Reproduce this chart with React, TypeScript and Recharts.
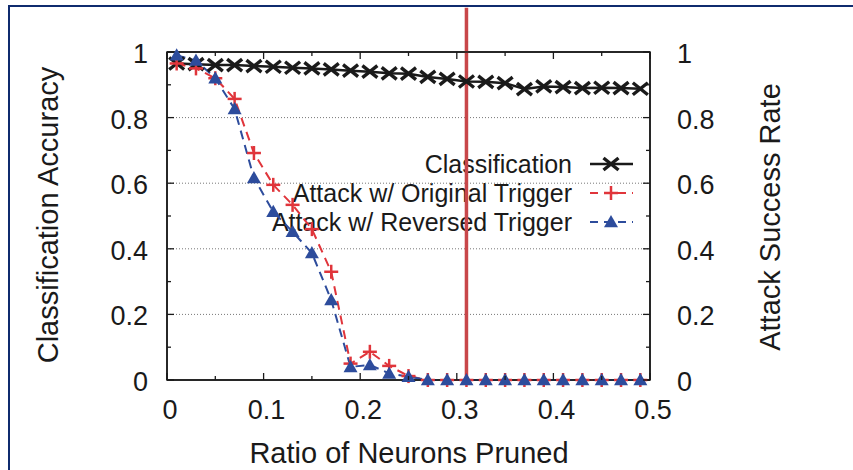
import { LineChart, Line, XAxis, YAxis, ReferenceLine, ReferenceArea, Customized } from 'recharts';

// pruning ratio (x) and the three measured curves
const ratio = [
  0.01, 0.03, 0.05, 0.07, 0.09, 0.11, 0.13, 0.15, 0.17, 0.19, 0.21, 0.23, 0.25,
  0.27, 0.29, 0.31, 0.33, 0.35, 0.37, 0.39, 0.41, 0.43, 0.45, 0.47, 0.49,
];
const classification = [
  0.965, 0.963, 0.96, 0.96, 0.957, 0.955, 0.952, 0.95, 0.947, 0.943, 0.94, 0.935, 0.934,
  0.924, 0.918, 0.91, 0.909, 0.905, 0.887, 0.895, 0.893, 0.89, 0.891, 0.89, 0.888,
];
const originalTrigger = [
  0.965, 0.95, 0.92, 0.857, 0.692, 0.595, 0.534, 0.46, 0.33, 0.05, 0.086, 0.043, 0.012,
  0, 0, 0, 0, 0, 0, 0, 0, 0, 0, 0, 0,
];
const reversedTrigger = [
  0.99, 0.974, 0.92, 0.826, 0.616, 0.513, 0.452, 0.387, 0.244, 0.04, 0.046, 0.02, 0.01,
  0, 0, 0, 0, 0, 0, 0, 0, 0, 0, 0, 0,
];

const xTicks = [0, 0.05, 0.1, 0.15, 0.2, 0.25, 0.3, 0.35, 0.4, 0.45, 0.5];
const yTicks = [0, 0.1, 0.2, 0.3, 0.4, 0.5, 0.6, 0.7, 0.8, 0.9, 1];
const gridLevels = [0.2, 0.4, 0.6, 0.8];
const pruneCut = 0.31;
const seriesNames = ['Classification', 'Attack w/ Original Trigger', 'Attack w/ Reversed Trigger'];

const data = ratio.map((r, i) => ({
  ratio: r,
  cls: classification[i],
  orig: originalTrigger[i],
  rev: reversedTrigger[i],
}));

const FONT = '"Liberation Sans", Arial, Helvetica, sans-serif';
const INK = '#1a1a1a';
const RED = '#e0353b';
const BLUE = '#2d4c9c';
const CUT = '#c8474a';

const fmt = (v: number) => (v === 0 ? '0' : v === 1 ? '1' : v.toFixed(1));
const majorX = (v: number) => Math.round(v * 100) % 10 === 0;
const majorY = (v: number) => Math.round(v * 10) % 2 === 0;

function LeftTick({ x, y, payload }: any) {
  const v = payload.value;
  const big = majorY(v);
  return (
    <g>
      <line x1={x} x2={x + (big ? 7 : 4)} y1={y} y2={y} stroke={INK} strokeWidth={1.3} />
      {big && (
        <text x={x - 19} y={y + 2} textAnchor="end" dominantBaseline="central" fontSize={27} fontFamily={FONT} fill={INK}>
          {fmt(v)}
        </text>
      )}
    </g>
  );
}

function RightTick({ x, y, payload }: any) {
  const v = payload.value;
  const big = majorY(v);
  return (
    <g>
      <line x1={x} x2={x - (big ? 7 : 4)} y1={y} y2={y} stroke={INK} strokeWidth={1.3} />
      {big && (
        <text x={x + 27} y={y + 2} textAnchor="start" dominantBaseline="central" fontSize={27} fontFamily={FONT} fill={INK}>
          {fmt(v)}
        </text>
      )}
    </g>
  );
}

function BottomTick({ x, y, payload }: any) {
  const v = payload.value;
  const big = majorX(v);
  return (
    <g>
      <line x1={x} x2={x} y1={y} y2={y - (big ? 7 : 4)} stroke={INK} strokeWidth={1.3} />
      {big && (
        <text x={x + 3} y={y + 30} textAnchor="middle" dominantBaseline="central" fontSize={27} fontFamily={FONT} fill={INK}>
          {fmt(v)}
        </text>
      )}
    </g>
  );
}

function TopTick({ x, y, payload }: any) {
  const big = majorX(payload.value);
  return <line x1={x} x2={x} y1={y} y2={y + (big ? 7 : 4)} stroke={INK} strokeWidth={1.3} />;
}

function Cross({ cx, cy, size = 7.5, color = INK, w = 3.4 }: any) {
  return (
    <g stroke={color} strokeWidth={w}>
      <line x1={cx - size} y1={cy - size * 0.8} x2={cx + size} y2={cy + size * 0.8} />
      <line x1={cx - size} y1={cy + size * 0.8} x2={cx + size} y2={cy - size * 0.8} />
    </g>
  );
}

function Plus({ cx, cy, size = 7, color = RED, w = 2.5 }: any) {
  return (
    <g stroke={color} strokeWidth={w}>
      <line x1={cx - size} y1={cy} x2={cx + size} y2={cy} />
      <line x1={cx} y1={cy - size} x2={cx} y2={cy + size} />
    </g>
  );
}

function Tri({ cx, cy, size = 7, color = BLUE }: any) {
  return (
    <path
      d={`M${cx},${cy - size} L${cx + size},${cy + size * 0.75} L${cx - size},${cy + size * 0.75} Z`}
      fill={color}
    />
  );
}

const markers = [Cross, Plus, Tri];
const markerColors = [INK, RED, BLUE];
const legendRows = [164, 193, 222];

function Decorations() {
  return (
    <g fontFamily={FONT} fill={INK}>
      <text x={48} y={215} transform="rotate(-90 48 215)" textAnchor="middle" dominantBaseline="central" fontSize={29}>
        Classification Accuracy
      </text>
      <text x={770} y={217} transform="rotate(-90 770 217)" textAnchor="middle" dominantBaseline="central" fontSize={29}>
        Attack Success Rate
      </text>
      <text x={409} y={453} textAnchor="middle" dominantBaseline="central" fontSize={29}>
        Ratio of Neurons Pruned
      </text>
      {seriesNames.map((name, i) => {
        const Mark = markers[i];
        const y = legendRows[i];
        return (
          <g key={name}>
            <text
              x={572}
              y={y}
              textAnchor="end"
              dominantBaseline="central"
              fontSize={25}
              stroke="#fff"
              strokeWidth={4}
              paintOrder="stroke"
            >
              {name}
            </text>
            <line
              x1={590}
              x2={633}
              y1={y}
              y2={y}
              stroke={markerColors[i]}
              strokeWidth={i === 0 ? 2.5 : 2}
              strokeDasharray={i === 0 ? undefined : '8 6'}
            />
            <Mark cx={611} cy={y} />
          </g>
        );
      })}
    </g>
  );
}

export default function App() {
  return (
    <div style={{ position: 'absolute', left: 0, top: 0, width: 853, height: 470, background: '#fff', overflow: 'hidden' }}>
      <div
        style={{
          position: 'absolute',
          left: 8,
          top: 5,
          width: 900,
          height: 500,
          borderLeft: '2.5px solid #0f2b6e',
          borderTop: '2.5px solid #0f2b6e',
        }}
      />
      <div style={{ position: 'absolute', left: 0, top: 0 }}>
        <LineChart width={853} height={470} data={data} margin={{ top: 42, right: 133, bottom: 50, left: 97 }}>
          <XAxis
            dataKey="ratio"
            type="number"
            domain={[0, 0.5]}
            ticks={xTicks}
            height={40}
            tickSize={0}
            tickMargin={0}
            tickLine={false}
            axisLine={{ stroke: INK, strokeWidth: 1.5 }}
            tick={<BottomTick />}
            interval={0}
          />
          <XAxis
            xAxisId="top"
            dataKey="ratio"
            orientation="top"
            type="number"
            domain={[0, 0.5]}
            ticks={xTicks}
            height={10}
            tickSize={0}
            tickMargin={0}
            tickLine={false}
            axisLine={{ stroke: INK, strokeWidth: 1.5 }}
            tick={<TopTick />}
            interval={0}
          />
          <YAxis
            type="number"
            domain={[0, 1]}
            ticks={yTicks}
            width={70}
            tickSize={0}
            tickMargin={0}
            tickLine={false}
            axisLine={{ stroke: INK, strokeWidth: 1.5 }}
            tick={<LeftTick />}
            interval={0}
          />
          <YAxis
            yAxisId="right"
            orientation="right"
            type="number"
            domain={[0, 1]}
            ticks={yTicks}
            width={70}
            tickSize={0}
            tickMargin={0}
            tickLine={false}
            axisLine={{ stroke: INK, strokeWidth: 1.5 }}
            tick={<RightTick />}
            interval={0}
          />
          {/* plot frame */}
          <ReferenceArea x1={0} x2={0.5} y1={0} y2={1} fill="none" stroke={INK} strokeWidth={1.5} ifOverflow="visible" />
          {gridLevels.map((g) => (
            <ReferenceLine key={g} y={g} stroke="#777" strokeWidth={1} strokeDasharray="1 2" />
          ))}
          {/* invisible series so the mirrored top/right axes get drawn */}
          <Line
            xAxisId="top"
            yAxisId="right"
            dataKey="cls"
            stroke="none"
            dot={false}
            activeDot={false}
            legendType="none"
            isAnimationActive={false}
          />
          <Line
            dataKey="cls"
            stroke={INK}
            strokeWidth={2.5}
            isAnimationActive={false}
            dot={(p: any) => <Cross key={`c${p.index}`} cx={p.cx} cy={p.cy} />}
          />
          <Line
            dataKey="orig"
            stroke={RED}
            strokeWidth={2}
            strokeDasharray="9 6"
            isAnimationActive={false}
            dot={(p: any) => <Plus key={`o${p.index}`} cx={p.cx} cy={p.cy} />}
          />
          <Line
            dataKey="rev"
            stroke={BLUE}
            strokeWidth={2}
            strokeDasharray="9 6"
            isAnimationActive={false}
            dot={(p: any) => <Tri key={`r${p.index}`} cx={p.cx} cy={p.cy} />}
          />
          <Customized component={Decorations} />
          <ReferenceLine
            segment={[
              { x: pruneCut, y: 0 },
              { x: pruneCut, y: 1.135 },
            ]}
            ifOverflow="visible"
            stroke={CUT}
            strokeWidth={3.5}
          />
        </LineChart>
      </div>
    </div>
  );
}
